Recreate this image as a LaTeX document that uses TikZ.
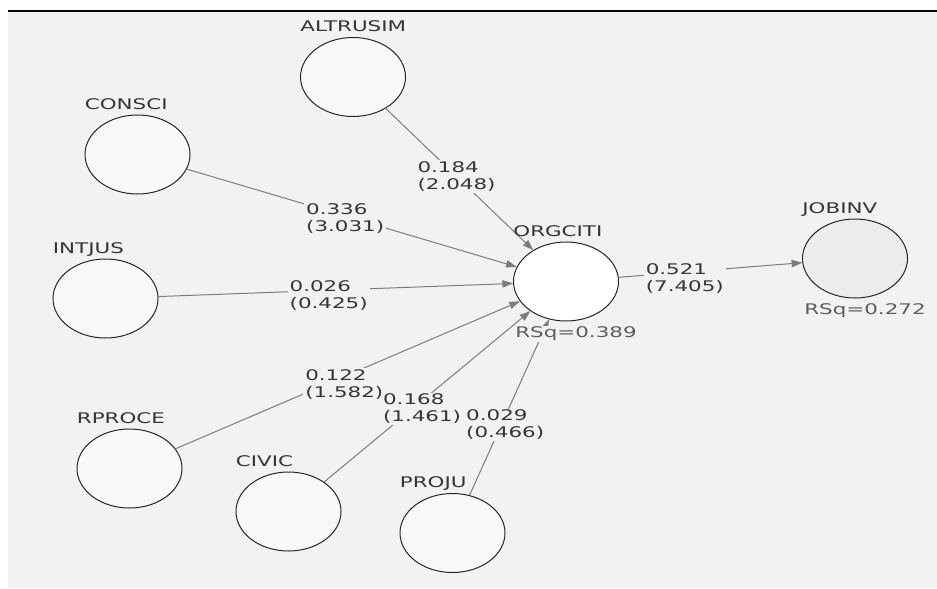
\documentclass[tikz,border=0pt]{standalone}
\usepackage{fontspec}
\setmainfont{DejaVu Sans}
\usetikzlibrary{positioning,shapes.geometric,arrows.meta}
\tikzset{>={Triangle[length=8pt,width=5.5pt]}}
\definecolor{panel}{HTML}{F2F2F2}
\definecolor{lvfill}{HTML}{F8F8F8}
\definecolor{endofill}{HTML}{ECECEC}
\definecolor{linegray}{HTML}{7C7C7C}
\definecolor{txt}{HTML}{353535}
\tikzset{
  lv/.style={ellipse,draw=black!85,line width=.75pt,fill=lvfill,
    minimum width=78.75pt,minimum height=59.25pt,inner sep=0pt},
  lvname/.style={anchor=base west,inner sep=0pt,text=txt,
    font=\fontsize{11}{13}\selectfont,xscale=1.46},
  rsq/.style={anchor=north west,inner sep=1pt,fill=panel,text=txt!80,
    font=\fontsize{11}{13}\selectfont,xscale=1.46},
  coef/.style={fill=panel,align=left,inner sep=1pt,text=txt,
    font=\fontsize{11}{12.75}\selectfont,xscale=1.46},
  pathline/.style={->,draw=linegray,line width=.75pt}
}

\begin{document}
\begin{tikzpicture}[x=.75pt,y=-.75pt]
\useasboundingbox (0,0) rectangle (937,588);
\fill[white] (0,0) rectangle (937,588);
\fill[panel] (8,11) rectangle (937,588);
\draw[line width=1.1pt] (8,11) -- (937,11);
\node[lv] (altr) at (353,77) {};
\node[lv] (consci) at (137.5,154.5) {};
\node[lv] (intjus) at (105.5,298.5) {};
\node[lv] (rproce) at (129.5,468.5) {};
\node[lv] (civic) at (288.5,511.5) {};
\node[lv] (proju) at (452.5,533) {};
\node[lv,fill=white] (orgciti) at (566,281.5) {};
\node[lv,fill=endofill] (jobinv) at (855,258.5) {};
\draw[pathline] (altr) -- node[coef,pos=.48] {0.184\\(2.048)} (orgciti);
\draw[pathline] (consci) -- node[coef,pos=.48,yshift=-2pt] {0.336\\(3.031)} (orgciti);
\draw[pathline] (intjus) -- node[coef,pos=.48,yshift=-4pt] {0.026\\(0.425)} (orgciti);
\draw[pathline] (rproce) -- node[coef,pos=.49,yshift=-6pt] {0.122\\(1.582)} (orgciti);
\draw[pathline] (civic) -- node[coef,pos=.475,yshift=-6pt] {0.168\\(1.461)} (orgciti);
\draw[pathline] (proju) -- node[coef,pos=.4,xshift=2pt] {0.029\\(0.466)} (orgciti);
\draw[pathline] (orgciti) -- node[coef,pos=.36,yshift=-4.5pt] {0.521\\(7.405)} (jobinv);
\node[lvname] (altr-lbl) at ([yshift=4pt]altr.west |- altr.north) {ALTRUSIM};
\node[lvname] (consci-lbl) at ([yshift=4pt]consci.west |- consci.north) {CONSCI};
\node[lvname] (intjus-lbl) at ([yshift=4pt]intjus.west |- intjus.north) {INTJUS};
\node[lvname] (rproce-lbl) at ([yshift=4pt]rproce.west |- rproce.north) {RPROCE};
\node[lvname] (civic-lbl) at ([yshift=4pt]civic.west |- civic.north) {CIVIC};
\node[lvname] (proju-lbl) at ([yshift=4pt]proju.west |- proju.north) {PROJU};
\node[lvname] (orgciti-lbl) at ([yshift=4pt]orgciti.west |- orgciti.north) {ORGCITI};
\node[lvname] (jobinv-lbl) at ([yshift=4pt]jobinv.west |- jobinv.north) {JOBINV};
\node[rsq] (orgciti-rsq) at ([yshift=-3pt]orgciti.west |- orgciti.south) {RSq=0.389};
\node[rsq] (jobinv-rsq) at ([yshift=-3pt]jobinv.west |- jobinv.south) {RSq=0.272};
\end{tikzpicture}
\end{document}
